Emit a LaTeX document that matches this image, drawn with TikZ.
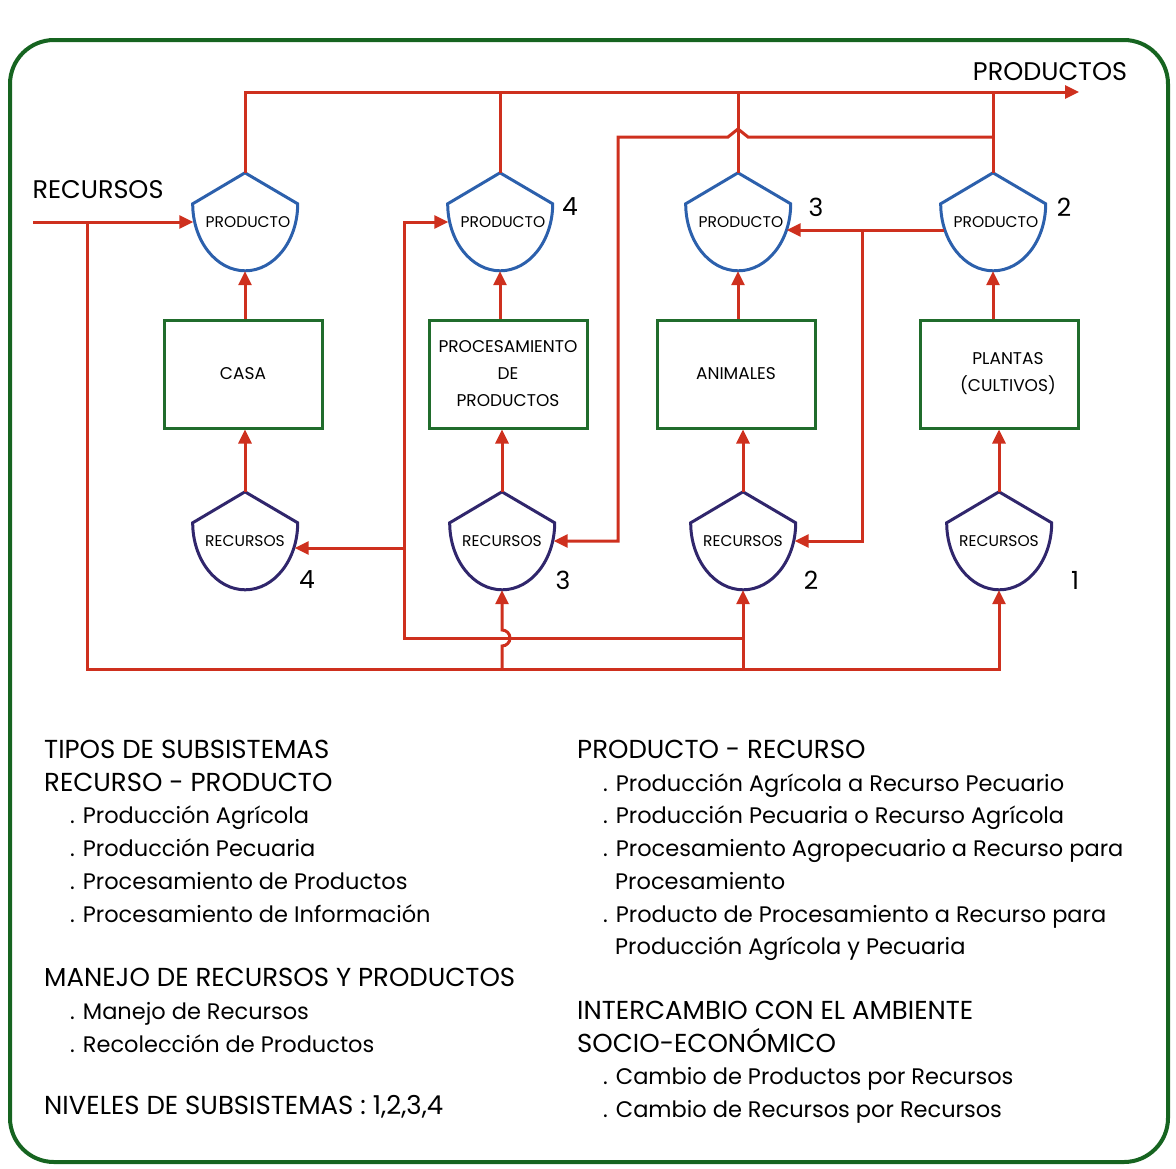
\documentclass[tikz,border=0pt]{standalone}
\usepackage{fontspec}
\setmainfont{Poppins}
\usetikzlibrary{arrows.meta}
\usetikzlibrary{calc}
\usetikzlibrary{positioning}
\definecolor{linea-roja}{RGB}{206, 48, 30}
\definecolor{verde-marco}{RGB}{22, 100, 32}
\definecolor{verde-caja}{RGB}{32, 108, 44}
\definecolor{azul-prod}{RGB}{44, 96, 172}
\definecolor{morado-rec}{RGB}{48, 38, 108}
\newcommand{\encab}[1]{{\fontsize{26}{32.7}\selectfont #1}}

\tikzset{
  flujo/.style={draw=linea-roja, line width=3pt},
  flecha/.style={flujo, -{Triangle[length=14pt, width=13pt]}},
  caja/.style={draw=verde-caja, line width=3pt, minimum width=158pt, minimum height=108pt,
    align=center, font=\fontsize{17}{27}\selectfont},
  escudo/.style={minimum width=105pt, minimum height=98pt, inner sep=0pt,
    font=\fontsize{15.5}{15.5}\selectfont},
  num/.style={font=\fontsize{25}{25}\selectfont},
  titulo/.style={font=\fontsize{25.5}{25.5}\selectfont},
  bloque/.style={align=left, inner sep=0pt, font=\fontsize{22.5}{32.7}\selectfont}
}

\begin{document}
\begin{tikzpicture}[x=1pt, y=1pt]
                \useasboundingbox (0, 0) rectangle (1176, -1168);
                \draw[verde-marco, line width=4pt, rounded corners=44pt] (10, -40) rectangle (1168, -1162);

                % productos (arriba)
                \node[escudo] (pcasa) at (245, -222) {\hspace*{6pt}PRODUCTO};
                \node[escudo] (pproc) at (500, -222) {\hspace*{6pt}PRODUCTO};
                \node[escudo] (panim) at (738, -222) {\hspace*{6pt}PRODUCTO};
                \node[escudo] (pplant) at (993, -222) {\hspace*{6pt}PRODUCTO};
                % cajas
                \node[caja] (bcasa) at (243, -374) {CASA};
                \node[caja] (bproc) at (508, -374) {PROCESAMIENTO\\DE\\PRODUCTOS};
                \node[caja] (banim) at (736, -374) {ANIMALES};
                \node[caja] (bplant) at (999, -374) {\hspace*{18pt}PLANTAS\\\hspace*{18pt}(CULTIVOS)};
                % recursos (abajo)
                \node[escudo] (rcasa) at (245, -541) {RECURSOS};
                \node[escudo] (rproc) at (502, -541) {RECURSOS};
                \node[escudo] (ranim) at (743, -541) {RECURSOS};
                \node[escudo] (rplant) at (999, -541) {RECURSOS};

                \foreach \n in {pcasa, pproc, panim, pplant}
                    \draw[azul-prod, line width=3pt] (\n.north) -- ([yshift=-31pt]\n.north east)
                        arc[start angle=0, end angle=-180, x radius=52.5pt, y radius=67pt] -- cycle;
                \foreach \n in {rcasa, rproc, ranim, rplant}
                    \draw[morado-rec, line width=3pt] (\n.north) -- ([yshift=-31pt]\n.north east)
                        arc[start angle=0, end angle=-180, x radius=52.5pt, y radius=67pt] -- cycle;

                % niveles
                \node[num] (np4) at (570, -207) {4};
                \node[num] (np3) at (816, -207) {3};
                \node[num] (np2) at (1064, -207) {2};
                \node[num] (nr4) at (307, -580) {4};
                \node[num] (nr3) at (563, -580) {3};
                \node[num] (nr2) at (811, -580) {2};
                \node[num] (nr1) at (1075, -580) {1};

                \node[titulo] (trec) at (98, -190) {RECURSOS};
                \node[titulo] (tprod) at (1050, -72) {PRODUCTOS};

                \coordinate (salida) at (1079, -92);
                \coordinate (entrada) at (33, -222);
                \coordinate (baja) at (87, -222);
                \coordinate (fondo) at (87, -669);
                \coordinate (medio) at (404, -638);
                \coordinate (lazo) at (618, -137);
                \coordinate (cruce) at (862, -230);

                % caja -> producto, recurso -> caja
                \draw[flecha] (pcasa.south |- bcasa.north) -- (pcasa.south);
                \draw[flecha] (pproc.south |- bproc.north) -- (pproc.south);
                \draw[flecha] (panim.south |- banim.north) -- (panim.south);
                \draw[flecha] (pplant.south |- bplant.north) -- (pplant.south);
                \draw[flecha] (rcasa.north) -- (rcasa.north |- bcasa.south);
                \draw[flecha] (rproc.north) -- (rproc.north |- bproc.south);
                \draw[flecha] (ranim.north) -- (ranim.north |- banim.south);
                \draw[flecha] (rplant.north) -- (bplant.south);

                % salida de productos
                \draw[flecha] (pcasa.north) |- (salida);
                \draw[flujo] (pproc.north) -- (pproc.north |- salida);
                \draw[flujo] (panim.north) -- (panim.north |- salida);
                \draw[flujo] (pplant.north) -- (pplant.north |- salida);

                % entrada de recursos
                \draw[flecha] (entrada) -- ([xshift=1pt]pcasa.west);
                \draw[flecha] (baja) -- (fondo) -| (rplant.south);
                \draw[flecha] (ranim.south |- fondo) -- (ranim.south);
                \draw[flecha] (rproc.south |- fondo) -- ++(0, 23) arc[start angle=-90, end angle=90, radius=8pt] -- (rproc.south);
                \draw[flecha] (ranim.south |- medio) -- (medio) |- ([xshift=1pt]pproc.west);
                \draw[flecha] (medio |- 0, -548) -- ([shift={(-3, -7)}]rcasa.east);

                % producto -> recurso
                \draw[flecha] (pplant.north |- lazo) -- ($(panim.north |- lazo)+(10, 0)$)
                    -- ($(panim.north |- lazo)+(0, 8)$) -- ($(panim.north |- lazo)+(-10, 0)$)
                    -- (lazo) |- ([xshift=-1pt]rproc.east);
                \draw[flecha] ([shift={(4, -8)}]pplant.west) -- ([shift={(-4, -8)}]panim.east);
                \draw[flecha] (cruce) |- ([xshift=-1pt]ranim.east);

                % textos
                \node[bloque, anchor=north west] (tipos) at (44, -740) {\encab{TIPOS DE SUBSISTEMAS}\\
                    \encab{RECURSO - PRODUCTO}\\
                    \hspace*{26pt}. Producción Agrícola\\
                    \hspace*{26pt}. Producción Pecuaria\\
                    \hspace*{26pt}. Procesamiento de Productos\\
                    \hspace*{26pt}. Procesamiento de Información\\[32pt]
                    \encab{MANEJO DE RECURSOS Y PRODUCTOS}\\
                    \hspace*{26pt}. Manejo de Recursos\\
                    \hspace*{26pt}. Recolección de Productos\\[30pt]
                    \encab{NIVELES DE SUBSISTEMAS : 1,2,3,4}};
                \node[bloque, anchor=north west] (prodrec) at (577, -740) {\encab{PRODUCTO - RECURSO}\\
                    \hspace*{26pt}. Producción Agrícola a Recurso Pecuario\\
                    \hspace*{26pt}. Producción Pecuaria o Recurso Agrícola\\
                    \hspace*{26pt}. Procesamiento Agropecuario a Recurso para\\
                    \hspace*{38pt}Procesamiento\\
                    \hspace*{26pt}. Producto de Procesamiento a Recurso para\\
                    \hspace*{38pt}Producción Agrícola y Pecuaria\\[32pt]
                    \encab{INTERCAMBIO CON EL AMBIENTE}\\
                    \encab{SOCIO-ECONÓMICO}\\
                    \hspace*{26pt}. Cambio de Productos por Recursos\\
                    \hspace*{26pt}. Cambio de Recursos por Recursos};
            \end{tikzpicture}
\end{document}
